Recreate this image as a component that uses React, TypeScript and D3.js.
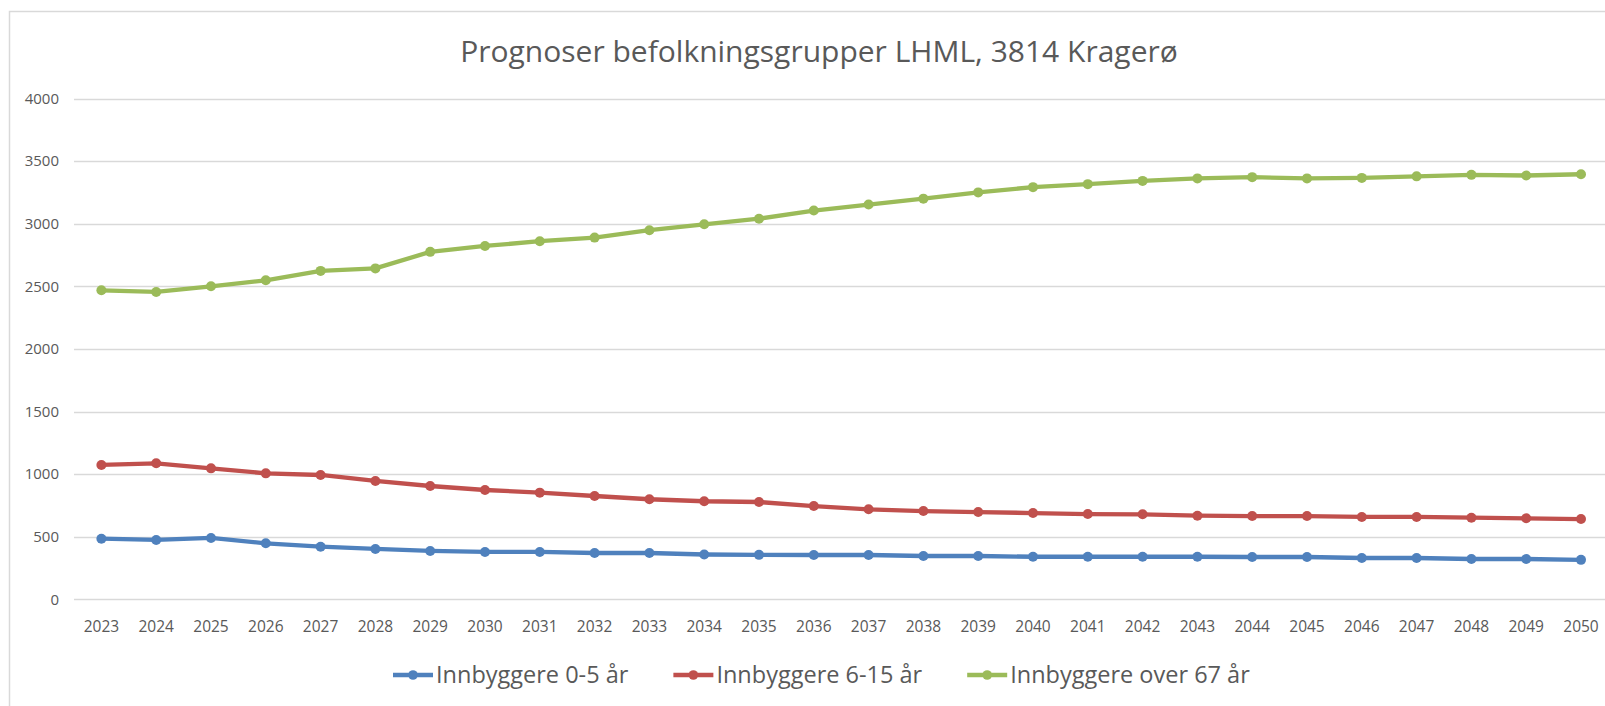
import { useEffect, useRef } from "react";
import * as d3 from "d3";

const title = "Prognoser befolkningsgrupper LHML, 3814 Kragerø";

const years = [
  2023, 2024, 2025, 2026, 2027, 2028, 2029, 2030, 2031, 2032, 2033, 2034, 2035, 2036,
  2037, 2038, 2039, 2040, 2041, 2042, 2043, 2044, 2045, 2046, 2047, 2048, 2049, 2050,
];

const age0to5 = [
  484, 474, 490, 447, 420, 402, 386, 378, 378, 370, 370, 358, 355, 354,
  354, 346, 346, 340, 340, 340, 340, 338, 338, 330, 330, 322, 322, 315,
];

const age6to15 = [
  1073, 1086, 1046, 1006, 993, 945, 905, 873, 852, 825, 799, 783, 777, 745,
  719, 705, 697, 689, 681, 679, 668, 665, 665, 658, 658, 652, 647, 641,
];

const over67 = [
  2468, 2455, 2500, 2548, 2623, 2643, 2775, 2822, 2860, 2889, 2948, 2995, 3040, 3105,
  3153, 3200, 3250, 3292, 3316, 3342, 3362, 3372, 3362, 3366, 3378, 3390, 3385, 3395,
];

const yTicks = [0, 500, 1000, 1500, 2000, 2500, 3000, 3500, 4000];

const series = [
  { name: "Innbyggere 0-5 år", values: age0to5, color: "#4F81BD" },
  { name: "Innbyggere 6-15 år", values: age6to15, color: "#C0504D" },
  { name: "Innbyggere over 67 år", values: over67, color: "#9BBB59" },
];

const WIDTH = 1605;
const HEIGHT = 706;
const FONT = "'Open Sans', 'Noto Sans', sans-serif";

export default function App() {
  const svgRef = useRef<SVGSVGElement>(null);

  useEffect(() => {
    if (!svgRef.current) return;
    const svg = d3.select(svgRef.current);
    svg.selectAll("*").remove();

    const plotLeft = 74;
    const step = 54.8;
    const plotRight = plotLeft + step * years.length;

    const x = d3
      .scalePoint<number>()
      .domain(years)
      .range([plotLeft + step / 2, plotRight - step / 2]);

    const y = d3.scaleLinear().domain([0, 4000]).range([599.3, 98.5]);

    // chart border, cut off on the right and at the bottom
    svg
      .append("rect")
      .attr("x", 9.5)
      .attr("y", 11.5)
      .attr("width", 1700)
      .attr("height", 800)
      .attr("fill", "#fff")
      .attr("stroke", "#d9d9d9")
      .attr("stroke-width", 1.5);

    svg
      .append("text")
      .attr("x", 819)
      .attr("y", 62)
      .attr("text-anchor", "middle")
      .attr("font-family", FONT)
      .attr("font-size", 30)
      .attr("fill", "#595959")
      .text(title);

    svg
      .append("g")
      .selectAll("line")
      .data(yTicks)
      .enter()
      .append("line")
      .attr("x1", plotLeft)
      .attr("x2", plotRight)
      .attr("y1", (d) => Math.round(y(d)) + 0.5)
      .attr("y2", (d) => Math.round(y(d)) + 0.5)
      .attr("stroke", "#d9d9d9")
      .attr("stroke-width", 1.5);

    svg
      .append("g")
      .selectAll("text")
      .data(yTicks)
      .enter()
      .append("text")
      .attr("x", 59)
      .attr("y", (d) => y(d))
      .attr("dy", "0.35em")
      .attr("text-anchor", "end")
      .attr("font-family", FONT)
      .attr("font-size", 15)
      .attr("fill", "#595959")
      .text((d) => String(d));

    svg
      .append("g")
      .selectAll("text")
      .data(years)
      .enter()
      .append("text")
      .attr("x", (d) => x(d) ?? 0)
      .attr("y", 627)
      .attr("dy", "0.35em")
      .attr("text-anchor", "middle")
      .attr("font-family", FONT)
      .attr("font-size", 15.5)
      .attr("fill", "#595959")
      .text((d) => String(d));

    const line = d3
      .line<number>()
      .x((_, i) => x(years[i]) ?? 0)
      .y((d) => y(d));

    series.forEach((s) => {
      const g = svg.append("g");
      g.append("path")
        .attr("d", line(s.values))
        .attr("fill", "none")
        .attr("stroke", s.color)
        .attr("stroke-width", 4.3)
        .attr("stroke-linejoin", "round")
        .attr("stroke-linecap", "round");
      g.selectAll("circle")
        .data(s.values)
        .enter()
        .append("circle")
        .attr("cx", (_, i) => x(years[i]) ?? 0)
        .attr("cy", (d) => y(d))
        .attr("r", 5)
        .attr("fill", s.color);
    });

    // legend
    const legendY = 675;
    let lx = 393;
    series.forEach((s) => {
      const g = svg.append("g");
      g.append("line")
        .attr("x1", lx)
        .attr("x2", lx + 40)
        .attr("y1", legendY)
        .attr("y2", legendY)
        .attr("stroke", s.color)
        .attr("stroke-width", 4.3);
      g.append("circle")
        .attr("cx", lx + 20)
        .attr("cy", legendY)
        .attr("r", 4.8)
        .attr("fill", s.color);
      const t = g
        .append("text")
        .attr("x", lx + 43)
        .attr("y", legendY)
        .attr("dy", "0.35em")
        .attr("font-family", FONT)
        .attr("font-size", 23.5)
        .attr("fill", "#595959")
        .text(s.name);
      const w = (t.node() as SVGTextElement).getComputedTextLength();
      lx += 43 + w + 45;
    });
  }, []);

  return (
    <svg
      ref={svgRef}
      width={WIDTH}
      height={HEIGHT}
      style={{ position: "fixed", left: 0, top: 0, background: "#fff" }}
    />
  );
}
